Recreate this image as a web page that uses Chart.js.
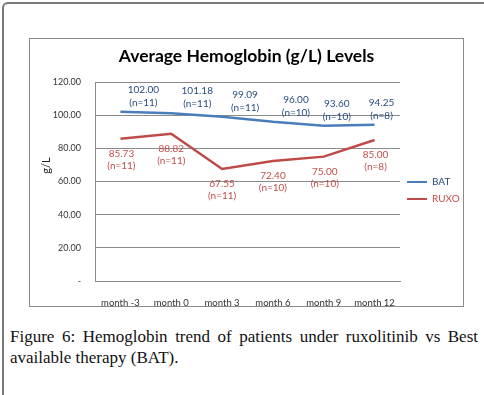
<!DOCTYPE html>
<html>
<head>
<meta charset="utf-8">
<script src="https://cdn.jsdelivr.net/npm/chart.js@4.4.0/dist/chart.umd.min.js"></script>
<style>
  body { margin: 0; background: #fff; width: 484px; height: 395px; overflow: hidden; position: relative; }
  #frame { position: absolute; left: 2px; top: 2px; width: 490px; height: 400px; border-top: 2px solid #7a7a7a; border-left: 2px solid #7a7a7a; border-top-left-radius: 6px; }
  #box { position: absolute; left: 29px; top: 38px; width: 435px; height: 269px; border: 1px solid #8a8a8a; box-sizing: border-box; }
  #chart { position: absolute; left: 30px; top: 39px; }
  #caption { position: absolute; left: 10px; top: 326px; width: 468px; font-family: "Liberation Serif", serif; font-size: 17px; line-height: 21px; text-align: justify; color: #111; }
</style>
</head>
<body>
<div id="frame"></div>
<div id="box"></div>
<canvas id="chart" width="433" height="267"></canvas>
<div id="caption">Figure 6: Hemoglobin trend of patients under ruxolitinib vs Best available therapy (BAT).</div>
<script>
var months = ["month -3", "month 0", "month 3", "month 6", "month 9", "month 12"];
var bat = [102.00, 101.18, 99.09, 96.00, 93.60, 94.25];
var batN = [11, 11, 11, 10, 10, 8];
var ruxo = [85.73, 88.82, 67.55, 72.40, 75.00, 85.00];
var ruxoN = [11, 11, 11, 10, 10, 8];

var FONT = "Lato, 'Liberation Sans', sans-serif";

// value labels, two lines each
var valueLabels = {
	id: 'valueLabels',
	afterDatasetsDraw: function(chart) {
		var ctx = chart.ctx;
		var counts = [batN, ruxoN];
		var shift = [[23, 26, 23, 23, 13, 7], [1, 0, 0, 0, 1, 1]];
		ctx.save();
		ctx.font = "10px " + FONT;
		ctx.textAlign = 'center';
		ctx.textBaseline = 'middle';
		chart.data.datasets.forEach(function(ds, d) {
			var meta = chart.getDatasetMeta(d);
			ctx.fillStyle = ds.labelColor;
			meta.data.forEach(function(pt, i) {
				var x = pt.x + shift[d][i];
				var v = ds.data[i].toFixed(2);
				var n = "(n=" + counts[d][i] + ")";
				if (d === 0) {
					ctx.fillText(v, x, pt.y - 22);
					ctx.fillText(n, x, pt.y - 9);
				} else {
					ctx.fillText(v, x, pt.y + 15);
					ctx.fillText(n, x, pt.y + 27);
				}
			});
		});
		// y axis title
		var a = chart.chartArea;
		ctx.translate(16, a.top + (a.bottom - a.top) * 0.42);
		ctx.rotate(-Math.PI / 2);
		ctx.fillStyle = '#222';
		ctx.font = "11px " + FONT;
		ctx.fillText("g/L", 0, 0);
		ctx.restore();
	}
};

var ctx = document.getElementById("chart");

var lineChart = new Chart(ctx, {
	type: 'line',
	data: {
		labels: months,
		datasets: [
			{
				label: 'BAT',
				data: bat,
				borderColor: '#4a7ebb',
				backgroundColor: '#4a7ebb',
				labelColor: '#2a4d7f',
				borderWidth: 2.5,
				pointRadius: 0,
				tension: 0
			},
			{
				label: 'RUXO',
				data: ruxo,
				borderColor: '#be4b48',
				backgroundColor: '#be4b48',
				labelColor: '#c0504d',
				borderWidth: 2.5,
				pointRadius: 0,
				tension: 0
			}
		]
	},
	options: {
		responsive: false,
		animation: false,
		layout: { padding: { left: 0, right: 0, top: 0, bottom: 0 } },
		plugins: {
			title: {
				display: true,
				text: 'Average Hemoglobin (g/L) Levels',
				color: '#000',
				font: { family: FONT, size: 17.5, weight: 'bold' },
				padding: { top: 7, bottom: 15 }
			},
			legend: {
				position: 'right',
				maxWidth: 63,
				title: { display: true, text: ' ', font: { size: 10 }, padding: 12 },
				labels: {
					boxWidth: 20,
					boxHeight: 2,
					padding: 7,
					font: { family: FONT, size: 10 },
					generateLabels: function(chart) {
						return chart.data.datasets.map(function(ds, i) {
							return {
								text: ds.label,
								fillStyle: ds.borderColor,
								strokeStyle: ds.borderColor,
								lineWidth: 0,
								fontColor: ds.labelColor,
								datasetIndex: i
							};
						});
					}
				}
			},
			tooltip: { enabled: false }
		},
		scales: {
			x: {
				offset: true,
				grid: { display: false },
				border: { display: true, color: '#8a8a8a' },
				ticks: { color: '#333', font: { family: FONT, size: 9.5 }, padding: 8, maxRotation: 0 },
				afterFit: function(scale) { scale.height = 25; }
			},
			y: {
				min: 0,
				max: 120,
				grid: { color: '#8a8a8a', drawTicks: false },
				border: { display: true, color: '#8a8a8a' },
				ticks: {
					stepSize: 20,
					padding: 14,
					color: '#333',
					font: { family: FONT, size: 9 },
					callback: function(v) { return v === 0 ? '-' : v.toFixed(2); }
				},
				afterFit: function(scale) { scale.width = 65; }
			}
		}
	},
	plugins: [valueLabels]
});
</script>
</body>
</html>
